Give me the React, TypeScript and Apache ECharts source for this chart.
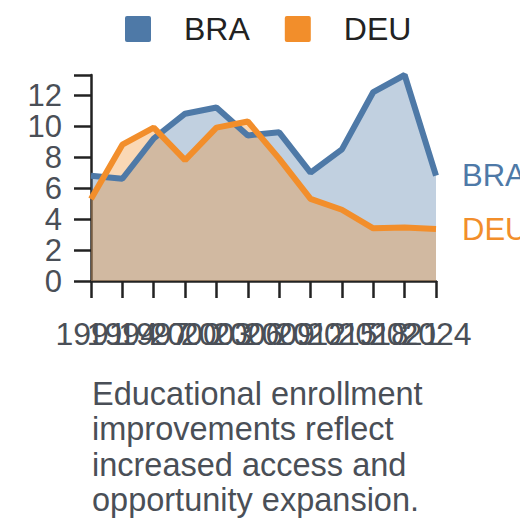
import React, { useEffect, useRef } from "react";
import * as echarts from "echarts";

const years = ["1991", "1994", "1997", "2000", "2003", "2006", "2009", "2012", "2015", "2018", "2021", "2024"];
const braValues = [6.8, 6.6, 9.2, 10.8, 11.2, 9.4, 9.6, 7.0, 8.5, 12.2, 13.3, 6.8];
const deuValues = [5.3, 8.8, 9.9, 7.8, 9.9, 10.3, 7.9, 5.3, 4.6, 3.4, 3.45, 3.35];
const yTicks = [0, 2, 4, 6, 8, 10, 12];
const caption = "Educational enrollment\nimprovements reflect\nincreased access and\nopportunity expansion.";

const FONT = "'Liberation Sans', Arial, sans-serif";
const BLUE = "#4e79a7";
const ORANGE = "#f28e2b";
const TEXT = "#4a4f57";
const ICON = "path://M2,0H24Q26,0 26,2V24Q26,26 24,26H2Q0,26 0,24V2Q0,0 2,0Z";

export default function App() {
  const ref = useRef<HTMLDivElement>(null);
  useEffect(() => {
    if (!ref.current) return;
    const chart = echarts.init(ref.current, undefined, { renderer: "svg" });
    const mkSeries = (name: string, data: number[], color: string) => ({
      name,
      type: "line",
      data,
      symbol: "none",
      lineStyle: { width: 6, color },
      itemStyle: { color },
      areaStyle: { color, opacity: 0.35 },
      endLabel: {
        show: true,
        formatter: "{a}",
        color,
        fontSize: 31,
        fontFamily: FONT,
        distance: 26,
      },
    });
    chart.setOption({
      animation: false,
      textStyle: { fontFamily: FONT },
      legend: {
        top: 0,
        left: 112,
        itemWidth: 26,
        itemHeight: 26,
        itemGap: 35,
        icon: ICON,
        textStyle: { fontSize: 32, color: "#222", fontFamily: FONT, padding: [0, 0, 0, 28] },
        data: ["BRA", "DEU"],
      },
      grid: { left: 83, right: 92, top: 67, bottom: 239, containLabel: false },
      xAxis: {
        type: "category",
        data: years,
        boundaryGap: false,
        axisLine: { lineStyle: { color: "#222", width: 2.5 } },
        axisTick: { length: 17, lineStyle: { color: "#222", width: 2.5 }, interval: 0 },
        axisLabel: { interval: 0, fontSize: 32, color: TEXT, margin: 37, fontFamily: FONT },
      },
      yAxis: {
        type: "value",
        min: 0,
        max: "dataMax",
        interval: 2,
        splitLine: { show: false },
        axisLine: { show: true, lineStyle: { color: "#222", width: 2.5 } },
        axisTick: { show: true, length: 17, lineStyle: { color: "#222", width: 2.5 } },
        axisLabel: {
          fontSize: 31,
          color: TEXT,
          margin: 29,
          showMinLabel: true,
          fontFamily: FONT,
          formatter: (v: number) => (yTicks.includes(v) ? String(v) : ""),
        },
      },
      series: [mkSeries("BRA", braValues, BLUE), mkSeries("DEU", deuValues, ORANGE)],
      graphic: [
        {
          type: "text",
          left: 84,
          top: 368,
          style: {
            text: caption,
            fontSize: 32.5,
            lineHeight: 35.5,
            fill: TEXT,
            fontFamily: FONT,
          },
        },
      ],
    });
    return () => chart.dispose();
  }, []);
  return <div ref={ref} style={{ width: 520, height: 512 }} />;
}
